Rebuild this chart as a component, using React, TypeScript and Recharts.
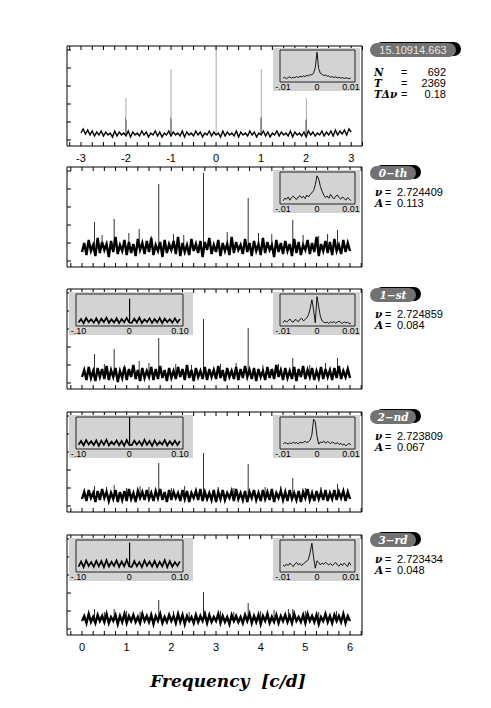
import React from "react";
import { ComposedChart, Bar, Line, XAxis, YAxis } from "recharts";

const SANS = '"Liberation Sans", Arial, sans-serif';
const SERIF = '"DejaVu Serif", serif';
const GRAY = "#d3d3d3";

// frequency grids
const FREQ_WIN = [
  -3, -2.95, -2.9, -2.85, -2.8, -2.75, -2.7, -2.65, -2.6, -2.55, -2.5, -2.45, -2.4, -2.35, -2.3, -2.25, -2.2, -2.15, -2.1, -2.05,
  -2, -1.95, -1.9, -1.85, -1.8, -1.75, -1.7, -1.65, -1.6, -1.55, -1.5, -1.45, -1.4, -1.35, -1.3, -1.25, -1.2, -1.15, -1.1, -1.05,
  -1, -0.95, -0.9, -0.85, -0.8, -0.75, -0.7, -0.65, -0.6, -0.55, -0.5, -0.45, -0.4, -0.35, -0.3, -0.25, -0.2, -0.15, -0.1, -0.05,
  0, 0.05, 0.1, 0.15, 0.2, 0.25, 0.3, 0.35, 0.4, 0.45, 0.5, 0.55, 0.6, 0.65, 0.7, 0.75, 0.8, 0.85, 0.9, 0.95,
  1, 1.05, 1.1, 1.15, 1.2, 1.25, 1.3, 1.35, 1.4, 1.45, 1.5, 1.55, 1.6, 1.65, 1.7, 1.75, 1.8, 1.85, 1.9, 1.95,
  2, 2.05, 2.1, 2.15, 2.2, 2.25, 2.3, 2.35, 2.4, 2.45, 2.5, 2.55, 2.6, 2.65, 2.7, 2.75, 2.8, 2.85, 2.9, 2.95, 3,
];
const FREQ_MAIN = [
  0, 0.05, 0.1, 0.15, 0.2, 0.25, 0.3, 0.35, 0.4, 0.45, 0.5, 0.55, 0.6, 0.65, 0.7, 0.75, 0.8, 0.85, 0.9, 0.95,
  1, 1.05, 1.1, 1.15, 1.2, 1.25, 1.3, 1.35, 1.4, 1.45, 1.5, 1.55, 1.6, 1.65, 1.7, 1.75, 1.8, 1.85, 1.9, 1.95,
  2, 2.05, 2.1, 2.15, 2.2, 2.25, 2.3, 2.35, 2.4, 2.45, 2.5, 2.55, 2.6, 2.65, 2.7, 2.75, 2.8, 2.85, 2.9, 2.95,
  3, 3.05, 3.1, 3.15, 3.2, 3.25, 3.3, 3.35, 3.4, 3.45, 3.5, 3.55, 3.6, 3.65, 3.7, 3.75, 3.8, 3.85, 3.9, 3.95,
  4, 4.05, 4.1, 4.15, 4.2, 4.25, 4.3, 4.35, 4.4, 4.45, 4.5, 4.55, 4.6, 4.65, 4.7, 4.75, 4.8, 4.85, 4.9, 4.95,
  5, 5.05, 5.1, 5.15, 5.2, 5.25, 5.3, 5.35, 5.4, 5.45, 5.5, 5.55, 5.6, 5.65, 5.7, 5.75, 5.8, 5.85, 5.9, 5.95, 6,
];
const FREQ_WIDE = [
  -0.1, -0.095, -0.09, -0.085, -0.08, -0.075, -0.07, -0.065, -0.06, -0.055, -0.05, -0.045, -0.04, -0.035, -0.03, -0.025, -0.02, -0.015, -0.01, -0.005,
  0, 0.005, 0.01, 0.015, 0.02, 0.025, 0.03, 0.035, 0.04, 0.045, 0.05, 0.055, 0.06, 0.065, 0.07, 0.075, 0.08, 0.085, 0.09, 0.095, 0.1,
];
const FREQ_NARROW = [
  -0.01, -0.0095, -0.009, -0.0085, -0.008, -0.0075, -0.007, -0.0065, -0.006, -0.0055, -0.005, -0.0045, -0.004, -0.0035, -0.003, -0.0025, -0.002, -0.0015, -0.001, -0.0005,
  0, 0.0005, 0.001, 0.0015, 0.002, 0.0025, 0.003, 0.0035, 0.004, 0.0045, 0.005, 0.0055, 0.006, 0.0065, 0.007, 0.0075, 0.008, 0.0085, 0.009, 0.0095, 0.01,
];

// axis ticks and labels
const TICKS_WIN = [-3.25, -3, -2.75, -2.5, -2.25, -2, -1.75, -1.5, -1.25, -1, -0.75, -0.5, -0.25, 0, 0.25, 0.5, 0.75, 1, 1.25, 1.5, 1.75, 2, 2.25, 2.5, 2.75, 3, 3.25];
const TICKS_MAIN = [-0.25, 0, 0.25, 0.5, 0.75, 1, 1.25, 1.5, 1.75, 2, 2.25, 2.5, 2.75, 3, 3.25, 3.5, 3.75, 4, 4.25, 4.5, 4.75, 5, 5.25, 5.5, 5.75, 6, 6.25];
const LABELS_WIN = [-3, -2, -1, 0, 1, 2, 3];
const LABELS_MAIN = [0, 1, 2, 3, 4, 5, 6];
const Y_TICKS = [0.06, 0.24, 0.42, 0.6, 0.78, 0.96];
const WIDE_TICKS = [-0.1, 0, 0.1];
const WIDE_LABELS = ["-.10", "0", "0.10"];
const NARROW_TICKS = [-0.01, 0, 0.01];
const NARROW_LABELS = ["-.01", "0", "0.01"];

// spectral window
const winNoise = [
  0.13, 0.17, 0.12, 0.16, 0.11, 0.15, 0.10, 0.14, 0.11, 0.15, 0.10, 0.14, 0.11, 0.13, 0.09, 0.15, 0.10, 0.14, 0.11, 0.13,
  0.10, 0.15, 0.09, 0.14, 0.11, 0.13, 0.10, 0.15, 0.11, 0.14, 0.09, 0.13, 0.11, 0.15, 0.10, 0.14, 0.09, 0.13, 0.11, 0.15,
  0.10, 0.14, 0.11, 0.13, 0.10, 0.15, 0.09, 0.14, 0.11, 0.13, 0.10, 0.15, 0.11, 0.14, 0.09, 0.13, 0.11, 0.15, 0.10, 0.14,
  0.11, 0.13, 0.09, 0.15, 0.10, 0.14, 0.11, 0.13, 0.10, 0.15, 0.09, 0.14, 0.11, 0.13, 0.10, 0.15, 0.11, 0.14, 0.09, 0.13,
  0.11, 0.15, 0.10, 0.14, 0.09, 0.13, 0.11, 0.15, 0.10, 0.14, 0.11, 0.13, 0.10, 0.15, 0.09, 0.14, 0.11, 0.13, 0.10, 0.14,
  0.09, 0.15, 0.11, 0.14, 0.10, 0.13, 0.11, 0.15, 0.10, 0.14, 0.11, 0.15, 0.10, 0.16, 0.11, 0.15, 0.12, 0.16, 0.11, 0.17, 0.14,
];
const winBase = 0.12;
const winPeakF = [-2.008, -2, -1.992, -1.008, -1, -0.992, 0, 0.992, 1, 1.008, 1.992, 2, 2.008];
const winPeakV = [0.28, 0.48, 0.26, 0.29, 0.77, 0.27, 0.99, 0.28, 0.77, 0.29, 0.26, 0.48, 0.27];
const winNarrow = [0.12, 0.15, 0.10, 0.14, 0.16, 0.12, 0.15, 0.13, 0.17, 0.14, 0.18, 0.16, 0.19, 0.17, 0.21, 0.19, 0.23, 0.22, 0.28, 0.45, 0.93, 0.42, 0.27, 0.24, 0.20, 0.22, 0.18, 0.19, 0.15, 0.17, 0.14, 0.16, 0.13, 0.15, 0.12, 0.14, 0.11, 0.13, 0.12, 0.10, 0.13];

// 0-th prewhitening step
const p0Noise = [
  0.15, 0.24, 0.12, 0.27, 0.16, 0.22, 0.11, 0.29, 0.14, 0.25, 0.17, 0.23, 0.10, 0.26, 0.15, 0.30, 0.13, 0.22, 0.16, 0.27,
  0.12, 0.25, 0.14, 0.23, 0.11, 0.28, 0.17, 0.24, 0.13, 0.26, 0.15, 0.29, 0.12, 0.22, 0.16, 0.25, 0.10, 0.27, 0.14, 0.23,
  0.17, 0.26, 0.13, 0.30, 0.11, 0.24, 0.15, 0.22, 0.12, 0.28, 0.16, 0.23, 0.14, 0.26, 0.10, 0.25, 0.17, 0.29, 0.13, 0.22,
  0.15, 0.27, 0.11, 0.24, 0.16, 0.23, 0.12, 0.30, 0.14, 0.25, 0.17, 0.22, 0.13, 0.28, 0.15, 0.24, 0.11, 0.26, 0.16, 0.23,
  0.12, 0.29, 0.14, 0.25, 0.17, 0.22, 0.10, 0.27, 0.15, 0.24, 0.13, 0.26, 0.16, 0.23, 0.11, 0.28, 0.14, 0.25, 0.12, 0.22,
  0.17, 0.27, 0.13, 0.24, 0.15, 0.30, 0.11, 0.23, 0.16, 0.26, 0.14, 0.25, 0.12, 0.28, 0.16, 0.22, 0.13, 0.27, 0.15, 0.24, 0.16,
];
const p0Base = 0.19;
const p0PeakF = [0.28, 0.45, 0.72, 1.05, 1.28, 1.55, 1.72, 2.05, 2.28, 2.72, 3.25, 3.72, 3.95, 4.25, 4.72, 4.95, 5.3, 5.5, 5.72];
const p0PeakV = [0.45, 0.32, 0.48, 0.34, 0.38, 0.31, 0.83, 0.33, 0.32, 0.94, 0.35, 0.69, 0.34, 0.33, 0.47, 0.32, 0.31, 0.33, 0.37];
const p0Narrow = [0.10, 0.18, 0.15, 0.22, 0.12, 0.20, 0.25, 0.18, 0.14, 0.22, 0.26, 0.19, 0.24, 0.17, 0.28, 0.22, 0.30, 0.35, 0.42, 0.60, 0.88, 0.78, 0.55, 0.40, 0.28, 0.20, 0.25, 0.18, 0.30, 0.22, 0.16, 0.24, 0.28, 0.20, 0.15, 0.22, 0.18, 0.12, 0.20, 0.16, 0.10];

// 1-st
const p1Noise = [
  0.12, 0.19, 0.09, 0.22, 0.11, 0.18, 0.08, 0.21, 0.12, 0.20, 0.10, 0.23, 0.09, 0.19, 0.12, 0.21, 0.07, 0.18, 0.11, 0.22,
  0.09, 0.20, 0.12, 0.24, 0.10, 0.19, 0.08, 0.21, 0.11, 0.18, 0.12, 0.22, 0.09, 0.20, 0.10, 0.23, 0.11, 0.19, 0.08, 0.21,
  0.11, 0.18, 0.10, 0.22, 0.12, 0.20, 0.09, 0.24, 0.11, 0.19, 0.08, 0.21, 0.12, 0.18, 0.10, 0.22, 0.09, 0.20, 0.12, 0.19,
  0.10, 0.23, 0.11, 0.19, 0.08, 0.21, 0.12, 0.18, 0.10, 0.22, 0.09, 0.20, 0.11, 0.23, 0.12, 0.19, 0.10, 0.21, 0.08, 0.20,
  0.12, 0.18, 0.09, 0.22, 0.11, 0.20, 0.10, 0.24, 0.12, 0.19, 0.09, 0.21, 0.11, 0.18, 0.10, 0.22, 0.08, 0.20, 0.12, 0.23,
  0.10, 0.19, 0.12, 0.21, 0.09, 0.18, 0.11, 0.22, 0.10, 0.20, 0.12, 0.19, 0.09, 0.21, 0.11, 0.23, 0.10, 0.18, 0.12, 0.20, 0.11,
];
const p1Base = 0.15;
const p1PeakF = [0.28, 0.5, 0.72, 0.95, 1.28, 1.5, 1.72, 2.1, 2.45, 2.72, 3.1, 3.45, 3.72, 4.05, 4.4, 4.72, 5.1, 5.45, 5.72];
const p1PeakV = [0.35, 0.25, 0.40, 0.24, 0.28, 0.26, 0.51, 0.25, 0.24, 0.70, 0.25, 0.26, 0.61, 0.24, 0.25, 0.31, 0.24, 0.26, 0.31];
const p1Wide = [
  0.11, 0.22, 0.09, 0.25, 0.12, 0.21, 0.10, 0.24, 0.09, 0.23, 0.12, 0.26, 0.10, 0.21, 0.11, 0.24, 0.09, 0.22, 0.12, 0.25,
  0.11, 0.10, 0.23, 0.11, 0.26, 0.09, 0.21, 0.12, 0.24, 0.10, 0.22, 0.11, 0.25, 0.09, 0.23, 0.12, 0.21, 0.10, 0.24, 0.11, 0.22,
];
const p1WidePeak = 0.85;
const p1Narrow = [0.10, 0.18, 0.12, 0.16, 0.22, 0.14, 0.12, 0.20, 0.18, 0.13, 0.21, 0.24, 0.16, 0.20, 0.26, 0.35, 0.55, 0.82, 0.50, 0.10, 0.92, 0.60, 0.30, 0.16, 0.12, 0.10, 0.12, 0.08, 0.13, 0.10, 0.14, 0.09, 0.12, 0.15, 0.11, 0.08, 0.13, 0.10, 0.12, 0.07, 0.09];

// 2-nd
const p2Noise = [
  0.13, 0.20, 0.11, 0.22, 0.14, 0.19, 0.10, 0.21, 0.12, 0.23, 0.14, 0.20, 0.11, 0.19, 0.13, 0.22, 0.10, 0.20, 0.12, 0.21,
  0.11, 0.23, 0.13, 0.19, 0.10, 0.21, 0.14, 0.20, 0.12, 0.22, 0.13, 0.19, 0.11, 0.21, 0.14, 0.23, 0.12, 0.20, 0.10, 0.22,
  0.12, 0.20, 0.14, 0.19, 0.11, 0.22, 0.13, 0.21, 0.10, 0.19, 0.14, 0.21, 0.12, 0.23, 0.11, 0.20, 0.13, 0.19, 0.12, 0.22,
  0.10, 0.20, 0.13, 0.22, 0.12, 0.19, 0.14, 0.21, 0.11, 0.23, 0.13, 0.19, 0.12, 0.21, 0.10, 0.20, 0.14, 0.22, 0.12, 0.19,
  0.11, 0.22, 0.13, 0.20, 0.12, 0.23, 0.10, 0.19, 0.14, 0.21, 0.12, 0.20, 0.11, 0.22, 0.13, 0.19, 0.12, 0.21, 0.10, 0.20,
  0.14, 0.23, 0.12, 0.19, 0.11, 0.21, 0.13, 0.20, 0.12, 0.22, 0.11, 0.19, 0.13, 0.22, 0.12, 0.20, 0.14, 0.21, 0.11, 0.20, 0.13,
];
const p2Base = 0.16;
const p2PeakF = [0.28, 0.55, 0.72, 1.0, 1.3, 1.5, 1.72, 2.0, 2.3, 2.72, 3.05, 3.4, 3.72, 4.1, 4.45, 4.72, 5.0, 5.35, 5.72];
const p2PeakV = [0.26, 0.25, 0.27, 0.24, 0.26, 0.25, 0.49, 0.24, 0.26, 0.59, 0.25, 0.24, 0.48, 0.25, 0.26, 0.34, 0.24, 0.25, 0.28];
const p2Wide = [
  0.13, 0.25, 0.11, 0.28, 0.14, 0.24, 0.12, 0.27, 0.10, 0.26, 0.13, 0.29, 0.11, 0.23, 0.14, 0.27, 0.12, 0.25, 0.10, 0.28,
  0.13, 0.12, 0.26, 0.14, 0.24, 0.11, 0.29, 0.13, 0.25, 0.10, 0.27, 0.12, 0.23, 0.14, 0.28, 0.11, 0.24, 0.13, 0.26, 0.12, 0.25,
];
const p2WidePeak = 1.0;
const p2Narrow = [0.15, 0.20, 0.18, 0.16, 0.19, 0.17, 0.21, 0.18, 0.20, 0.16, 0.22, 0.19, 0.21, 0.24, 0.20, 0.23, 0.28, 0.45, 0.93, 0.85, 0.40, 0.15, 0.22, 0.20, 0.25, 0.18, 0.23, 0.21, 0.17, 0.22, 0.19, 0.16, 0.20, 0.14, 0.18, 0.12, 0.16, 0.10, 0.14, 0.18, 0.12];

// 3-rd
const p3Noise = [
  0.14, 0.19, 0.12, 0.21, 0.13, 0.18, 0.12, 0.20, 0.14, 0.19, 0.13, 0.21, 0.12, 0.18, 0.14, 0.20, 0.11, 0.19, 0.13, 0.21,
  0.12, 0.19, 0.14, 0.20, 0.13, 0.18, 0.12, 0.21, 0.14, 0.19, 0.13, 0.20, 0.11, 0.19, 0.14, 0.21, 0.12, 0.18, 0.13, 0.20,
  0.14, 0.19, 0.12, 0.21, 0.13, 0.20, 0.11, 0.19, 0.14, 0.18, 0.12, 0.20, 0.13, 0.19, 0.14, 0.21, 0.12, 0.20, 0.13, 0.18,
  0.14, 0.21, 0.12, 0.19, 0.13, 0.18, 0.11, 0.20, 0.14, 0.19, 0.13, 0.18, 0.12, 0.20, 0.14, 0.21, 0.12, 0.19, 0.13, 0.20,
  0.11, 0.19, 0.14, 0.21, 0.12, 0.18, 0.13, 0.20, 0.12, 0.19, 0.14, 0.20, 0.13, 0.19, 0.12, 0.21, 0.14, 0.18, 0.13, 0.20,
  0.12, 0.21, 0.14, 0.19, 0.13, 0.20, 0.11, 0.18, 0.14, 0.21, 0.13, 0.19, 0.12, 0.20, 0.14, 0.19, 0.13, 0.21, 0.12, 0.19, 0.14,
];
const p3Base = 0.16;
const p3PeakF = [0.28, 0.5, 0.72, 1.0, 1.3, 1.72, 2.05, 2.4, 2.72, 3.1, 3.4, 3.72, 4.0, 4.3, 4.62, 4.72, 5.0, 5.3, 5.7];
const p3PeakV = [0.26, 0.23, 0.26, 0.24, 0.23, 0.35, 0.24, 0.23, 0.43, 0.24, 0.23, 0.32, 0.24, 0.25, 0.26, 0.26, 0.24, 0.23, 0.24];
const p3Wide = [
  0.17, 0.33, 0.15, 0.36, 0.19, 0.31, 0.16, 0.35, 0.18, 0.34, 0.15, 0.37, 0.17, 0.32, 0.19, 0.36, 0.16, 0.33, 0.18, 0.38,
  0.17, 0.16, 0.34, 0.18, 0.31, 0.15, 0.36, 0.19, 0.33, 0.17, 0.35, 0.16, 0.32, 0.18, 0.37, 0.15, 0.34, 0.17, 0.31, 0.19, 0.33,
];
const p3WidePeak = 0.92;
const p3Narrow = [0.22, 0.18, 0.25, 0.20, 0.28, 0.22, 0.17, 0.25, 0.30, 0.22, 0.27, 0.20, 0.26, 0.30, 0.34, 0.40, 0.62, 0.90, 0.45, 0.12, 0.35, 0.30, 0.22, 0.28, 0.24, 0.30, 0.26, 0.22, 0.27, 0.20, 0.25, 0.30, 0.22, 0.18, 0.26, 0.20, 0.28, 0.23, 0.17, 0.30, 0.21];

const DOMAIN_WIN: [number, number] = [-3.31, 3.24];
const DOMAIN_MAIN: [number, number] = [-0.336, 6.268];
const DOMAIN_WIDE: [number, number] = [-0.105, 0.106];
const DOMAIN_NARROW: [number, number] = [-0.0109, 0.0112];

// tick marks only, no text
const NoText = () => <g />;

type SpecProps = {
  top: number;
  freq: number[];
  noise: number[];
  base: number;
  peakF: number[];
  peakV: number[];
  domain: [number, number];
  ticks: number[];
  labels?: number[];
  lineWidth: number;
};

function Spectrum({ top, freq, noise, base, peakF, peakV, domain, ticks, labels, lineWidth }: SpecProps) {
  const trace = freq.map((f, i) => ({ f, p: noise[i] }));
  const spikes = peakF.map((f, i) => ({ f, v: [base, peakV[i]] }));
  const height = labels ? 122 : 102;
  return (
    <div style={{ position: "absolute", left: 66, top: top - 1 }}>
      <ComposedChart width={297} height={height} data={spikes} margin={{ top: 1, right: 1, bottom: 1, left: 1 }}>
        <XAxis type="number" dataKey="f" domain={domain} allowDataOverflow ticks={ticks} interval={0} mirror height={1} tick={NoText} tickSize={4} stroke="#000" />
        <XAxis xAxisId="top" orientation="top" type="number" dataKey="f" domain={domain} allowDataOverflow ticks={ticks} interval={0} mirror height={1} tick={NoText} tickSize={4} stroke="#000" />
        {labels && (
          <XAxis xAxisId="lab" type="number" dataKey="f" domain={domain} allowDataOverflow ticks={labels} interval={0} height={20}
            axisLine={false} tickLine={false} tickSize={0} tickMargin={8} tick={{ fontSize: 11, fill: "#000", fontFamily: SANS }} />
        )}
        <YAxis type="number" domain={[0, 1]} ticks={Y_TICKS} interval={0} mirror width={1} tick={NoText} tickSize={4} stroke="#000" />
        <YAxis yAxisId="r" orientation="right" type="number" domain={[0, 1]} ticks={Y_TICKS} interval={0} mirror width={1} tick={NoText} tickSize={4} stroke="#000" />
        <Line data={trace} dataKey="p" type="linear" stroke="#000" strokeWidth={lineWidth} strokeLinejoin="miter" dot={false} activeDot={false} isAnimationActive={false} />
        <Bar dataKey="v" barSize={1.6} fill="#000" isAnimationActive={false} />
      </ComposedChart>
    </div>
  );
}

type InsetProps = {
  left: number;
  top: number;
  width: number;
  marginL: number;
  marginR: number;
  freq: number[];
  values: number[];
  peak?: number;
  domain: [number, number];
  ticks: number[];
  tickText: string[];
  lineWidth: number;
};

function Inset({ left, top, width, marginL, marginR, freq, values, peak, domain, ticks, tickText, lineWidth }: InsetProps) {
  const trace = freq.map((f, i) => ({ f, p: values[i] }));
  const spikes = peak === undefined ? [] : [{ f: 0, v: [values[freq.indexOf(0)], peak] }];
  return (
    <div style={{ position: "absolute", left, top, width, height: 43, background: GRAY }}>
      <ComposedChart width={width} height={43} data={spikes} margin={{ top: 2, right: marginR, bottom: 0, left: marginL }}>
        <XAxis type="number" dataKey="f" domain={domain} allowDataOverflow ticks={ticks} interval={0} height={9}
          tickLine={false} tickSize={0} tickMargin={2} stroke="#222"
          tick={{ fontSize: 9, fill: "#000", fontFamily: SANS }}
          tickFormatter={(v: number) => tickText[ticks.indexOf(v)] ?? ""} />
        <XAxis xAxisId="top" orientation="top" type="number" dataKey="f" domain={domain} allowDataOverflow mirror height={1} tick={NoText} tickLine={false} stroke="#222" />
        <YAxis type="number" domain={[0, 1]} mirror width={1} tick={NoText} tickLine={false} stroke="#222" />
        <YAxis yAxisId="r" orientation="right" type="number" domain={[0, 1]} mirror width={1} tick={NoText} tickLine={false} stroke="#222" />
        <Line data={trace} dataKey="p" type="linear" stroke="#000" strokeWidth={lineWidth} dot={false} activeDot={false} isAnimationActive={false} />
        <Bar dataKey="v" barSize={1.2} fill="#000" isAnimationActive={false} />
      </ComposedChart>
    </div>
  );
}

function WideInset({ top, values, peak }: { top: number; values: number[]; peak: number }) {
  return <Inset left={69} top={top} width={124} marginL={7} marginR={10} freq={FREQ_WIDE} values={values} peak={peak} domain={DOMAIN_WIDE} ticks={WIDE_TICKS} tickText={WIDE_LABELS} lineWidth={1.7} />;
}

function NarrowInset({ top, values }: { top: number; values: number[] }) {
  return <Inset left={273} top={top} width={87} marginL={7} marginR={5} freq={FREQ_NARROW} values={values} domain={DOMAIN_NARROW} ticks={NARROW_TICKS} tickText={NARROW_LABELS} lineWidth={0.9} />;
}

function Tag({ top, width, children, serif }: { top: number; width: number; children: React.ReactNode; serif?: boolean }) {
  return (
    <div
      style={{
        position: "absolute", left: 370, top, width, height: 14, borderRadius: 7,
        background: "#727272", boxShadow: "5px -1px 0 0 #000", color: serif ? "#fff" : "#e6e6e6",
        fontFamily: serif ? SERIF : SANS, fontStyle: serif ? "italic" : "normal", fontWeight: serif ? 700 : 400,
        fontSize: serif ? 10.5 : 11, lineHeight: "14px", textAlign: "center", whiteSpace: "nowrap",
      }}
    >
      {children}
    </div>
  );
}

const symStyle: React.CSSProperties = { position: "absolute", fontFamily: SERIF, fontStyle: "italic", fontWeight: 700, fontSize: 10.5, lineHeight: "10px", whiteSpace: "nowrap" };
const valStyle: React.CSSProperties = { position: "absolute", fontFamily: SANS, fontSize: 11, lineHeight: "10px", whiteSpace: "nowrap" };

function Fit({ top, nu, amp }: { top: number; nu: string; amp: string }) {
  return (
    <>
      <span style={{ ...symStyle, left: 375, top: top - 5 }}>ν</span>
      <span style={{ ...valStyle, left: 385, top: top - 5 }}>=</span>
      <span style={{ ...valStyle, left: 397, top: top - 5 }}>{nu}</span>
      <span style={{ ...symStyle, left: 375, top: top + 6 }}>A</span>
      <span style={{ ...valStyle, left: 385, top: top + 6 }}>=</span>
      <span style={{ ...valStyle, left: 397, top: top + 6 }}>{amp}</span>
    </>
  );
}

function WinRow({ top, sym, value }: { top: number; sym: string; value: string }) {
  return (
    <>
      <span style={{ ...symStyle, left: 374, top: top - 5 }}>{sym}</span>
      <span style={{ ...valStyle, left: 401, top: top - 5 }}>=</span>
      <span style={{ ...valStyle, left: 414, top: top - 5, width: 32, textAlign: "right" }}>{value}</span>
    </>
  );
}

export default function App() {
  return (
    <div style={{ position: "absolute", left: 0, top: 0, width: 491, height: 708, background: "#fff", color: "#000" }}>
      <Spectrum top={46} freq={FREQ_WIN} noise={winNoise} base={winBase} peakF={winPeakF} peakV={winPeakV} domain={DOMAIN_WIN} ticks={TICKS_WIN} labels={LABELS_WIN} lineWidth={1.4} />
      <Spectrum top={167} freq={FREQ_MAIN} noise={p0Noise} base={p0Base} peakF={p0PeakF} peakV={p0PeakV} domain={DOMAIN_MAIN} ticks={TICKS_MAIN} lineWidth={2.4} />
      <Spectrum top={289} freq={FREQ_MAIN} noise={p1Noise} base={p1Base} peakF={p1PeakF} peakV={p1PeakV} domain={DOMAIN_MAIN} ticks={TICKS_MAIN} lineWidth={2.4} />
      <Spectrum top={412} freq={FREQ_MAIN} noise={p2Noise} base={p2Base} peakF={p2PeakF} peakV={p2PeakV} domain={DOMAIN_MAIN} ticks={TICKS_MAIN} lineWidth={2.4} />
      <Spectrum top={535} freq={FREQ_MAIN} noise={p3Noise} base={p3Base} peakF={p3PeakF} peakV={p3PeakV} domain={DOMAIN_MAIN} ticks={TICKS_MAIN} labels={LABELS_MAIN} lineWidth={2.4} />

      <NarrowInset top={48} values={winNarrow} />
      <NarrowInset top={170} values={p0Narrow} />
      <WideInset top={292} values={p1Wide} peak={p1WidePeak} />
      <NarrowInset top={292} values={p1Narrow} />
      <WideInset top={415} values={p2Wide} peak={p2WidePeak} />
      <NarrowInset top={415} values={p2Narrow} />
      <WideInset top={538} values={p3Wide} peak={p3WidePeak} />
      <NarrowInset top={538} values={p3Narrow} />

      <Tag top={43} width={86}>15.10914.663</Tag>
      <WinRow top={72} sym="N" value="692" />
      <WinRow top={83} sym="T" value="2369" />
      <WinRow top={94} sym="TΔν" value="0.18" />

      <Tag top={166} width={46} serif>0−th</Tag>
      <Fit top={192} nu="2.724409" amp="0.113" />
      <Tag top={288} width={46} serif>1−st</Tag>
      <Fit top={314} nu="2.724859" amp="0.084" />
      <Tag top={410} width={46} serif>2−nd</Tag>
      <Fit top={436} nu="2.723809" amp="0.067" />
      <Tag top={533} width={46} serif>3−rd</Tag>
      <Fit top={559} nu="2.723434" amp="0.048" />

      <div style={{ position: "absolute", left: 0, width: 456, top: 671, textAlign: "center", fontFamily: SERIF, fontStyle: "italic", fontWeight: 700, fontSize: 17, lineHeight: "20px" }}>
        Frequency&nbsp;&nbsp;[c/d]
      </div>
    </div>
  );
}
